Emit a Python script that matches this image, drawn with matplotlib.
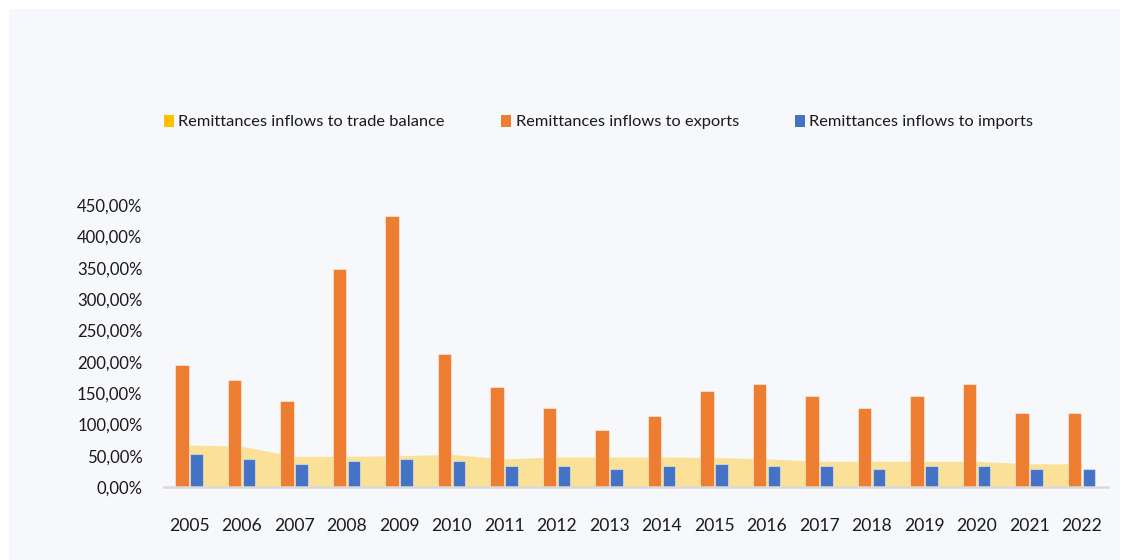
import matplotlib
matplotlib.use("Agg")
import matplotlib.pyplot as plt
from matplotlib.patches import Patch, Rectangle
from matplotlib.ticker import FuncFormatter
import numpy as np

years = ["2005", "2006", "2007", "2008", "2009", "2010", "2011", "2012", "2013",
         "2014", "2015", "2016", "2017", "2018", "2019", "2020", "2021", "2022"]
to_trade_balance = [67, 65, 49, 49, 50, 52, 45, 48, 48, 48, 47, 45, 41, 41, 41, 41, 37, 37]
to_exports = [194, 171, 137, 348, 433, 213, 159, 126, 91, 113, 153, 164, 145, 126, 145, 164, 118, 118]
to_imports = [52, 45, 37, 41, 45, 41, 33, 33, 29, 33, 37, 33, 33, 29, 33, 33, 29, 29]
y_ticks = [0, 50, 100, 150, 200, 250, 300, 350, 400, 450]
series_names = ["Remittances inflows to trade balance",
                "Remittances inflows to exports",
                "Remittances inflows to imports"]

C_YEL = "#FFC000"
C_ORA = "#ED7D31"
C_BLU = "#4472C4"
BG = "#F7F8FC"
TXT = "#1a1a1a"

plt.rcParams["font.family"] = ["Lato", "DejaVu Sans"]

W, H = 1126, 560
fig = plt.figure(figsize=(W / 100, H / 100), dpi=100, facecolor="white")
fig.patches.append(Rectangle((9 / W, 0), (1120 - 9) / W, (H - 9) / H,
                             transform=fig.transFigure, facecolor=BG,
                             edgecolor="none", zorder=-10))

ax = fig.add_axes([164 / W, (H - 487) / H, (1108 - 164) / W, (487 - 205) / H])
ax.set_zorder(2)
ax.set_facecolor("none")

x = np.arange(len(years))
ax.fill_between(x, 0, to_trade_balance, color=C_YEL, alpha=0.4, linewidth=0, zorder=1)
ax.bar(x - 0.135, to_exports, width=0.255, color=C_ORA, edgecolor=(1, 1, 1, 0.45),
       linewidth=0.8, zorder=2)
ax.bar(x + 0.14, to_imports, width=0.235, color=C_BLU, edgecolor=(1, 1, 1, 0.45),
       linewidth=0.8, zorder=2)

ax.set_xlim(-0.48, 17.5)
ax.set_ylim(0, 450)
ax.set_xticks(x)
ax.set_xticklabels(years)
ax.set_yticks(y_ticks)
ax.yaxis.set_major_formatter(FuncFormatter(lambda v, p: f"{v:.2f}".replace(".", ",") + "%"))
ax.tick_params(axis="both", length=0, colors=TXT)
ax.tick_params(axis="x", pad=22, labelsize=12.6)
ax.tick_params(axis="y", pad=15.5, labelsize=12.1)
for s in ["top", "right", "left"]:
    ax.spines[s].set_visible(False)
ax.spines["bottom"].set_color("#d9d9d9")
ax.spines["bottom"].set_linewidth(1.8)
ax.spines["bottom"].set_zorder(3)

handles = [Patch(facecolor=C_YEL), Patch(facecolor=C_ORA), Patch(facecolor=C_BLU)]
fs = 11.8
px = fs * 100 / 72
fig.legend(handles, series_names, loc="center left",
           bbox_to_anchor=(164 / W, 1 - 122 / H), ncol=3, frameon=False,
           fontsize=fs, handlelength=10 / px, handleheight=12 / px,
           handletextpad=4.5 / px, columnspacing=56 / px, borderpad=0,
           borderaxespad=0, labelcolor=TXT)

fig.savefig("out.png", dpi=100, facecolor="white")
